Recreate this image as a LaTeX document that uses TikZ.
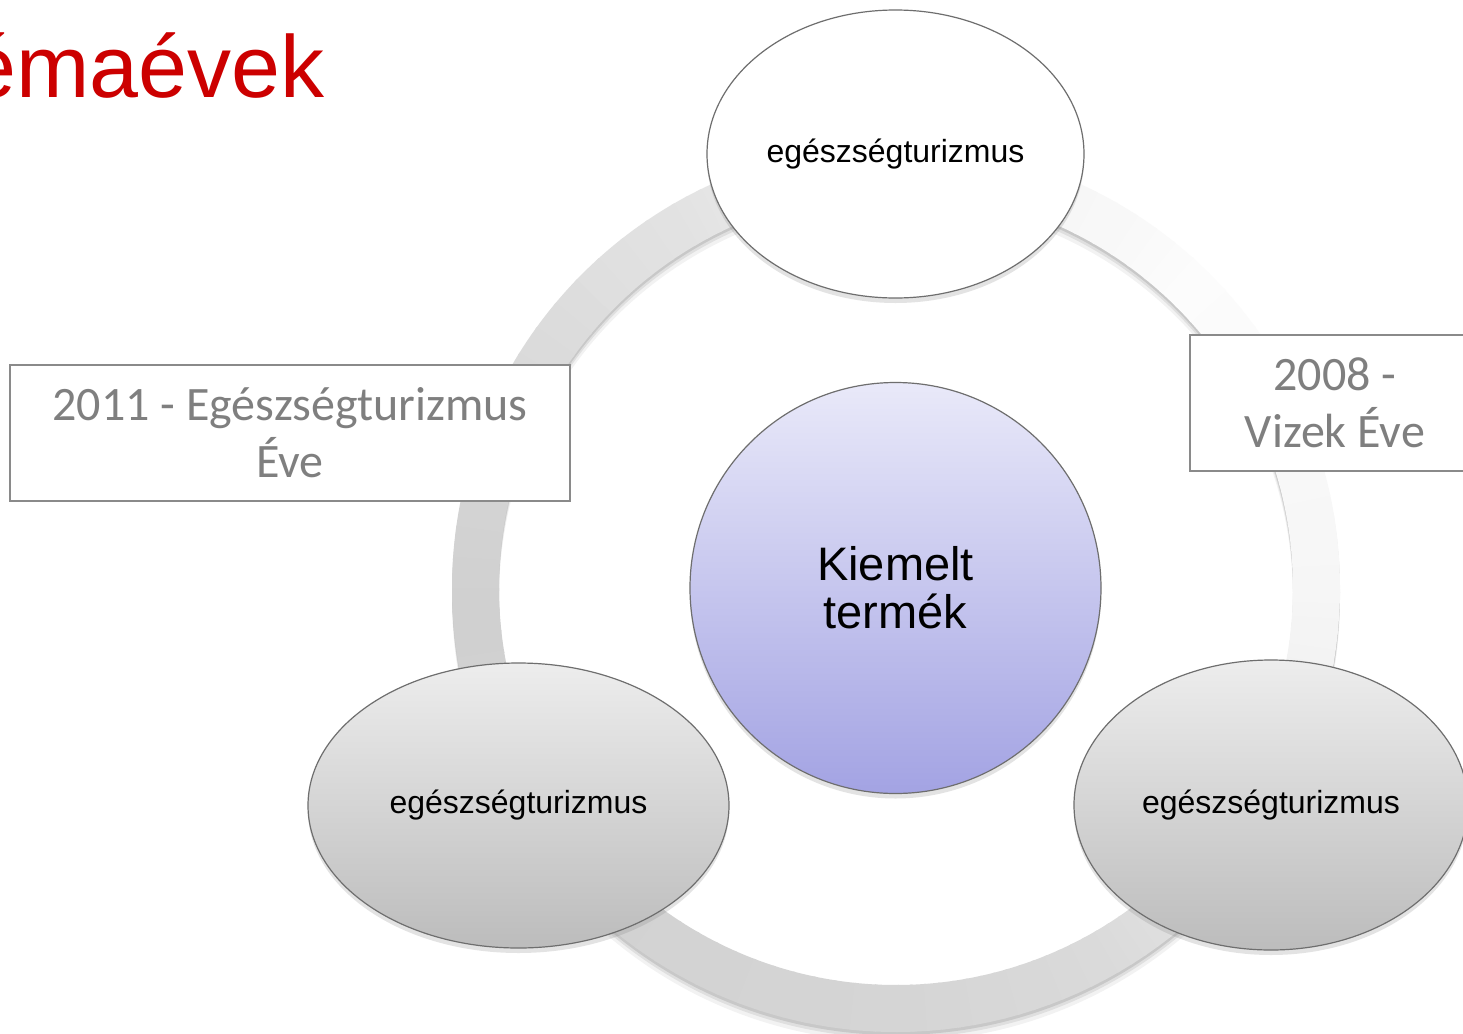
\documentclass[tikz,border=0pt]{standalone}
\usepackage{fontspec}
\setmainfont{Liberation Sans}
\newfontfamily\calibrifont{Carlito}
\usetikzlibrary{shapes.geometric,shadows}
\definecolor{titlered}{HTML}{CC0000}
\definecolor{edgegray}{HTML}{6E6E6E}
\definecolor{boxgray}{HTML}{8A8A8A}
\definecolor{boxtext}{HTML}{7F7F7F}
\definecolor{balltop}{HTML}{EDEDED}
\definecolor{ballbot}{HTML}{BCBCBC}
\definecolor{violtop}{HTML}{E9E9F9}
\definecolor{violbot}{HTML}{A3A3E3}
\begin{document}
\begin{tikzpicture}[x=0.5pt,y=-0.5pt,
  bubble/.style={ellipse, draw=edgegray, line width=0.6pt, inner sep=0pt,
    font=\fontsize{16}{19}\selectfont,
    drop shadow={shadow xshift=0pt, shadow yshift=-2.5pt, opacity=0.22}},
  greybubble/.style={bubble, top color=balltop, bottom color=ballbot},
  whitebubble/.style={bubble, fill=white},
  hub/.style={circle, draw=edgegray, line width=0.6pt, inner sep=0pt,
    minimum size=205.5pt, top color=violtop, bottom color=violbot,
    align=center, font=\fontsize{23.5}{24}\selectfont,
    drop shadow={shadow xshift=0pt, shadow yshift=-2.5pt, opacity=0.22}},
  yearbox/.style={rectangle, draw=boxgray, line width=1.2pt, fill=white,
    inner sep=0pt, align=center, text=boxtext,
    font=\calibrifont\fontsize{24}{28.5}\selectfont}]
\useasboundingbox (0,0) rectangle (1463,1034);
\clip (0,0) rectangle (1463,1034);
\fill[white] (0,0) rectangle (1463,1034);
% title
\node[anchor=base east, inner sep=0pt, text=titlered,
  font=\fontsize{44}{50}\selectfont] (title) at (325,97) {émaévek};
% ring
\coordinate (O) at (896,588);
\foreach \dy/\op in {1.5/0.10,3/0.08,5/0.05}{
  \fill[black, opacity=\op, even odd rule] ([yshift=-\dy pt]O) circle[radius=222pt] ([yshift=-\dy pt]O) circle[radius=198.5pt];
}
\foreach \sa/\ea/\ga/\gb in {0/45/246/252, 45/90/252/240, 90/120/240/227,
    120/180/227/208, 180/225/208/210, 225/270/210/213, 270/300/213/218,
    300/330/218/235, 330/360/235/246}{
  \foreach \k in {0,...,14}{
    \pgfmathsetmacro\aa{\sa+(\ea-\sa)*\k/15}
    \pgfmathsetmacro\bb{\sa+(\ea-\sa)*(\k+1)/15+0.4}
    \pgfmathsetmacro\gv{(\ga+(\gb-\ga)*(\k+0.5)/15)/255}
    \definecolor{segc}{gray}{\gv}
    \fill[segc] ([shift={(\aa:222pt)}]O) arc[start angle=\aa, end angle=\bb, radius=222pt]
      -- ([shift={(\bb:198.5pt)}]O) arc[start angle=\bb, end angle=\aa, radius=198.5pt] -- cycle;
  }
}
% year boxes
\node[yearbox, minimum width=280pt, minimum height=68pt] (y2011) at (290,433)
  {2011 - Egészségturizmus\\Éve};
\node[yearbox, minimum width=145pt, minimum height=68pt] (y2008) at (1335,403)
  {2008 -\\Vizek Éve};
% bubbles
\node[whitebubble, minimum width=188.5pt, minimum height=144pt] (top) at (895.5,154) {egészségturizmus};
\node[greybubble, minimum width=210.5pt, minimum height=142.5pt] (bl) at (518.5,805.5) {egészségturizmus};
\node[greybubble, minimum width=197pt, minimum height=145pt] (br) at (1271,805) {egészségturizmus};
\node[hub] (hub) at (895.5,588) {Kiemelt\\termék};
\end{tikzpicture}
\end{document}
